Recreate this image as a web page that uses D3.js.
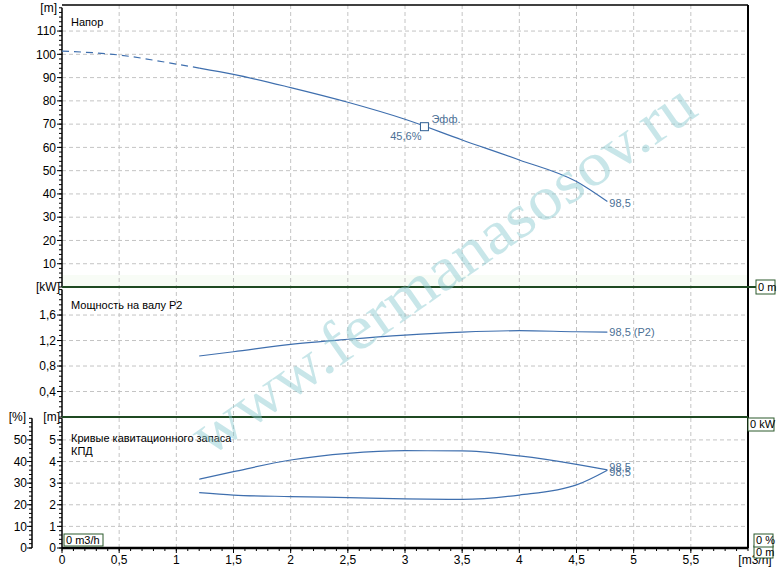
<!DOCTYPE html>
<html><head><meta charset="utf-8">
<script src="https://cdn.jsdelivr.net/npm/d3@7/dist/d3.min.js"></script>
<style>body{margin:0;background:#fff;} svg{display:block;font-family:"Liberation Sans",Arial,sans-serif;}</style>
</head><body>
<svg id="c" width="778" height="572"></svg>
<script>
// ---- data ----
const flowHead = [0, 0.5, 1.0, 1.2, 1.5, 2.0, 2.5, 3.0, 3.5, 4.0, 4.5, 4.77];
const headVals = [101.4, 99.7, 95.8, 94.1, 91.4, 85.7, 79.4, 72.1, 63.2, 54.6, 45.3, 36.7];
const flowCurve = [1.2, 1.5, 2.0, 2.5, 3.0, 3.5, 4.0, 4.5, 4.77];
const powerVals = [0.957, 1.024, 1.14, 1.22, 1.286, 1.333, 1.354, 1.338, 1.333];
const effVals = [31.8, 35.3, 40.7, 43.8, 45.0, 44.9, 42.6, 38.7, 36.1];
const npshVals = [2.56, 2.45, 2.38, 2.33, 2.27, 2.25, 2.45, 2.92, 3.6];
const dutyPoint = {q: 3.17, h: 68.9};
const xTicks = [0, 0.5, 1, 1.5, 2, 2.5, 3, 3.5, 4, 4.5, 5, 5.5];
const headTicks = [10, 20, 30, 40, 50, 60, 70, 80, 90, 100, 110];
const powerTicks = [0.4, 0.8, 1.2, 1.6];
const npshTicks = [0, 1, 2, 3, 4, 5];
const effTicks = [0, 10, 20, 30, 40, 50];

const svg = d3.select("#c");
const L = 62, R = 748, T = 5, B1 = 287, B2 = 417, B3 = 548;
const x = d3.scaleLinear([0, 6], [L, R]);
const yH = d3.scaleLinear([0, 121.2], [B1, T]);
const yP = d3.scaleLinear([0, 2.04], [B2, B1]);
const yN = d3.scaleLinear([0, 6.06], [B3, B2]);
const yE = d3.scaleLinear([0, 60.6], [B3, B2]);
const fmt = v => String(v).replace(".", ",");
const lineCol = "#3f6fae", txtCol = "#4b6f95", gridCol = "#c4c4c4";

// pale band above separator
svg.append("rect").attr("x", L).attr("y", B1 - 12).attr("width", R - L).attr("height", 12).attr("fill", "#f8fcf6");

// grid
const g = svg.append("g").attr("stroke", gridCol).attr("stroke-dasharray", "4,3").attr("stroke-width", 1);
xTicks.filter(d => d > 0).forEach(d => g.append("line").attr("x1", x(d)).attr("x2", x(d)).attr("y1", T).attr("y2", B3));
headTicks.forEach(d => g.append("line").attr("x1", L).attr("x2", R).attr("y1", yH(d)).attr("y2", yH(d)));
powerTicks.forEach(d => g.append("line").attr("x1", L).attr("x2", R).attr("y1", yP(d)).attr("y2", yP(d)));
npshTicks.filter(d => d > 0).forEach(d => g.append("line").attr("x1", L).attr("x2", R).attr("y1", yN(d)).attr("y2", yN(d)));

// axes helpers
function leftAxis(scale, ticks, minorStep, lo, hi, labelX, axisX) {
  const a = svg.append("g");
  a.append("line").attr("x1", axisX).attr("x2", axisX).attr("y1", scale(hi)).attr("y2", scale(lo)).attr("stroke", "#000").attr("stroke-width", 1.5);
  const minors = d3.range(lo, hi + 1e-9, minorStep);
  minors.forEach(v => a.append("line").attr("x1", axisX - 3).attr("x2", axisX).attr("y1", scale(v)).attr("y2", scale(v)).attr("stroke", "#000"));
  ticks.forEach(v => {
    a.append("line").attr("x1", axisX - 5).attr("x2", axisX).attr("y1", scale(v)).attr("y2", scale(v)).attr("stroke", "#000");
    a.append("text").attr("x", labelX).attr("y", scale(v)).attr("dy", "0.35em").attr("text-anchor", "end").attr("font-size", 12).attr("fill", "#000").text(fmt(v));
  });
}
leftAxis(yH, headTicks, 2, 0, 120, 56, L);
leftAxis(yP, powerTicks, 0.08, 0, 2.0, 56, L);
leftAxis(yN, npshTicks, 0.2, 0, 6.0, 56, L);
leftAxis(yE, effTicks, 2, 0, 60, 27, 32);

// unit labels
const unit = (t, xx, yy, anchor) => svg.append("text").attr("x", xx).attr("y", yy).attr("dy", "0.35em").attr("text-anchor", anchor || "end").attr("font-size", 12).attr("fill", "#000").text(t);
unit("[m]", 57, 8);
unit("[kW]", 60, B1);
unit("[m]", 60, B2);
unit("[%]", 26, B2);
unit("[m3/h]", 755, 560, "middle");

// x axis
const xa = svg.append("g");
d3.range(0, 6.0001, 0.1).forEach(v => xa.append("line").attr("x1", x(v)).attr("x2", x(v)).attr("y1", B3).attr("y2", B3 + 3).attr("stroke", "#000"));
xTicks.forEach(v => {
  xa.append("line").attr("x1", x(v)).attr("x2", x(v)).attr("y1", B3).attr("y2", B3 + 5).attr("stroke", "#000");
  xa.append("text").attr("x", x(v)).attr("y", 560).attr("dy", "0.35em").attr("text-anchor", "middle").attr("font-size", 12).attr("fill", "#000").text(fmt(v));
});

// frame
svg.append("line").attr("x1", L).attr("x2", R).attr("y1", T).attr("y2", T).attr("stroke", "#000").attr("stroke-width", 1.5);
svg.append("line").attr("x1", R).attr("x2", R).attr("y1", T).attr("y2", B3).attr("stroke", "#000").attr("stroke-width", 2);
svg.append("line").attr("x1", L).attr("x2", R).attr("y1", B3).attr("y2", B3).attr("stroke", "#000").attr("stroke-width", 2.5);
svg.append("line").attr("x1", L).attr("x2", 757).attr("y1", B1).attr("y2", B1).attr("stroke", "#1f4a22").attr("stroke-width", 2);
svg.append("line").attr("x1", L).attr("x2", R).attr("y1", B2).attr("y2", B2).attr("stroke", "#1f4a22").attr("stroke-width", 2);

// panel titles
const title = (t, yy) => svg.append("text").attr("x", 71).attr("y", yy).attr("dy", "0.35em").attr("font-size", 11).attr("fill", "#000").text(t);
title("Напор", 22);
title("Мощность на валу P2", 305);
title("Кривые кавитационного запаса", 438);
title("КПД", 451);

// curves
const line = (ys) => d3.line().x(d => x(d[0])).y(d => ys(d[1])).curve(d3.curveMonotoneX);
const headPts = flowHead.map((q, i) => [q, headVals[i]]);
svg.append("path").attr("d", line(yH)(headPts.filter(d => d[0] <= 1.2))).attr("fill", "none").attr("stroke", lineCol).attr("stroke-width", 1.2).attr("stroke-dasharray", "7,5");
svg.append("path").attr("d", line(yH)(headPts.filter(d => d[0] >= 1.2))).attr("fill", "none").attr("stroke", lineCol).attr("stroke-width", 1.2);
svg.append("path").attr("d", line(yP)(flowCurve.map((q, i) => [q, powerVals[i]]))).attr("fill", "none").attr("stroke", lineCol).attr("stroke-width", 1.2);
svg.append("path").attr("d", line(yE)(flowCurve.map((q, i) => [q, effVals[i]]))).attr("fill", "none").attr("stroke", lineCol).attr("stroke-width", 1.2);
svg.append("path").attr("d", line(yN)(flowCurve.map((q, i) => [q, npshVals[i]]))).attr("fill", "none").attr("stroke", lineCol).attr("stroke-width", 1.2);

// duty point
svg.append("rect").attr("x", x(dutyPoint.q) - 4).attr("y", yH(dutyPoint.h) - 4).attr("width", 8).attr("height", 8).attr("fill", "#fff").attr("stroke", "#2f5f93").attr("stroke-width", 1);
const lbl = (t, xx, yy, anchor) => svg.append("text").attr("x", xx).attr("y", yy).attr("dy", "0.35em").attr("text-anchor", anchor || "start").attr("font-size", 11).attr("fill", txtCol).text(t);
lbl("Эфф.", x(dutyPoint.q) + 7, yH(dutyPoint.h) - 8);
lbl("45,6%", x(dutyPoint.q) - 3, yH(dutyPoint.h) + 9, "end");
const lastQ = flowHead[flowHead.length - 1];
lbl("98,5", x(lastQ) + 2, yH(headVals[headVals.length - 1]) + 2);
lbl("98,5 (P2)", x(flowCurve[flowCurve.length - 1]) + 2, yP(powerVals[powerVals.length - 1]));
lbl("98,5", x(flowCurve[flowCurve.length - 1]) + 2, yE(effVals[effVals.length - 1]) - 3);
lbl("98,5", x(flowCurve[flowCurve.length - 1]) + 2, yN(npshVals[npshVals.length - 1]) + 2);

// value boxes
function box(t, x0, y0, w, h) {
  svg.append("rect").attr("x", x0).attr("y", y0).attr("width", w).attr("height", h).attr("fill", "#fff").attr("stroke", "#2d5a2d").attr("stroke-width", 1);
  svg.append("text").attr("x", x0 + 2).attr("y", y0 + h / 2).attr("dy", "0.36em").attr("font-size", 11).attr("fill", "#000").text(t);
}
box("0 m", 754, 546, 19, 12);
box("0 %", 754, 534, 19, 13);
box("0 m", 756, 280, 19, 14);
box("0 kW", 748, 418, 26, 13);
box("0 m3/h", 64, 534, 39, 12);

// watermark
svg.append("text").attr("transform", "translate(442,268) rotate(-35)")
  .attr("text-anchor", "middle").attr("dy", "0.35em")
  .attr("font-family", "'Liberation Serif','DejaVu Serif',serif").attr("font-size", 62)
  .attr("textLength", 600).attr("lengthAdjust", "spacingAndGlyphs")
  .attr("fill", "#86c9cf").attr("opacity", 0.45).text("www.fermanasosov.ru");
</script>
</body></html>
